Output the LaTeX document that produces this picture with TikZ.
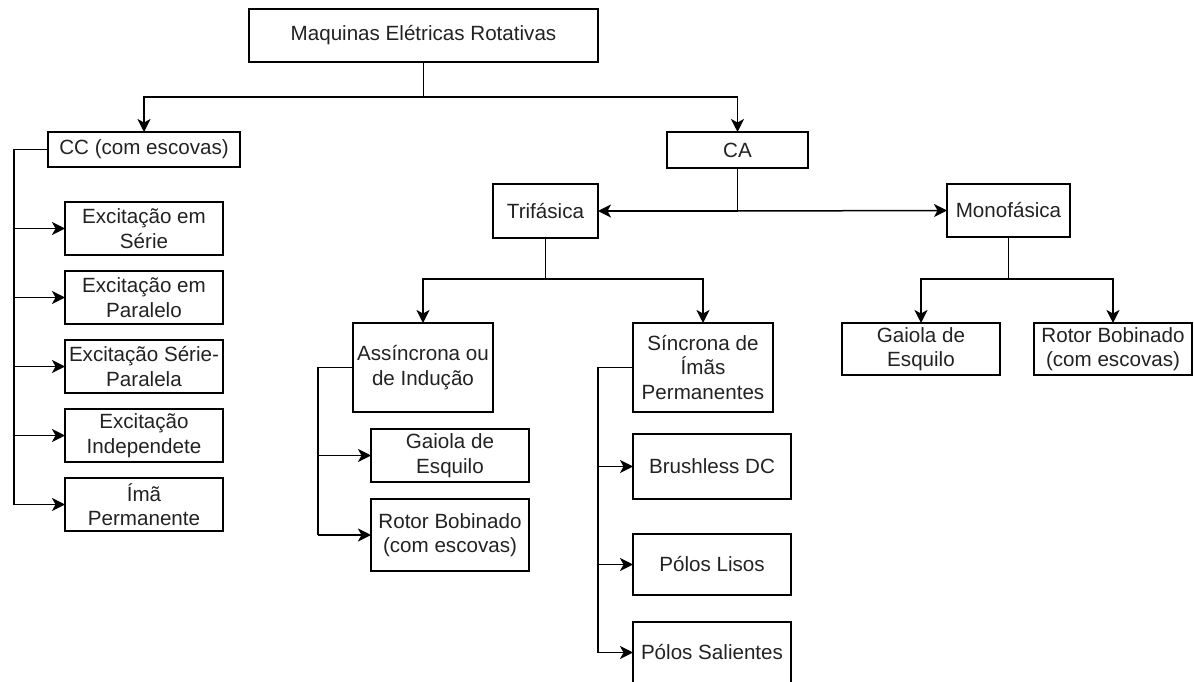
\documentclass[tikz,border=0pt]{standalone}
\usepackage{fontspec}
\setmainfont{Liberation Sans}
\usepackage{tikz}
\usetikzlibrary{positioning,arrows.meta}
\definecolor{ink}{HTML}{222222}
\tikzset{
  mbox/.style={draw,line width=1.5pt,inner sep=0pt,outer sep=0pt,align=center,text=ink,
    font=\fontsize{20.6}{24.5}\selectfont},
  sz/.style 2 args={minimum width=#1pt,minimum height=#2pt},
  link/.style={line width=1.5pt},
  arr/.style={link,-{Stealth[length=13pt,width=13pt,inset=3.5pt]}}
}
\begin{document}
\begin{tikzpicture}[x=1pt,y=-1pt]
\useasboundingbox (0,0) rectangle (1194,682);
% top and first level
\node[mbox,sz={349}{53}] (top) at (423.5,35.5) {Maquinas Elétricas Rotativas};
\node[mbox,sz={192}{35}] (cc) at (144,149.5) {CC (com escovas)};
\node[mbox,sz={141}{36}] (ca) at (737.5,150) {CA};
\node[mbox,sz={105}{54}] (tri) at (545.5,211) {Trifásica};
\node[mbox,sz={123}{53}] (mono) at (1008.5,210.5) {Monofásica};
% CC branch
\node[mbox,sz={158}{53}] (e1) at (144,228.5) {Excitação em\\Série};
\node[mbox,sz={158}{53},below=16pt of e1] (e2) {Excitação em\\Paralelo};
\node[mbox,sz={158}{53},below=16pt of e2] (e3) {Excitação Série-\\Paralela};
\node[mbox,sz={158}{53},below=16pt of e3] (e4) {Excitação\\Independete};
\node[mbox,sz={158}{53},below=16pt of e4] (e5) {Ímã\\Permanente};
% three phase
\node[mbox,sz={140}{89}] (ass) at (423,367.5) {Assíncrona ou\\de Indução};
\node[mbox,sz={140}{89}] (sin) at (703,367.5) {Síncrona de\\Ímãs\\Permanentes};
\node[mbox,sz={158}{53}] (gtri) at (450,455.5) {Gaiola de\\Esquilo};
\node[mbox,sz={158}{72}] (rtri) at (450,535) {Rotor Bobinado\\(com escovas)};
\node[mbox,sz={158}{65}] (bdc) at (712,466.5) {Brushless DC};
\node[mbox,sz={158}{61}] (lisos) at (712,564.5) {Pólos Lisos};
\node[mbox,sz={158}{61}] (sal) at (712,652.5) {Pólos Salientes};
% single phase
\node[mbox,sz={158}{52}] (gmono) at (921,349) {Gaiola de\\Esquilo};
\node[mbox,sz={158}{52}] (rmono) at (1113,349) {Rotor Bobinado\\(com escovas)};
% junctions
\coordinate (jtop) at (423.5,97);
\coordinate (jca) at (737.5,211);
\coordinate (jtri) at (545.5,279);
\coordinate (jmono) at (1008.5,279);
\coordinate (ccbus) at (14,0);
\coordinate (assbus) at (318,0);
\coordinate (sinbus) at (598,0);
% connectors
\draw[link] (top.south) -- (jtop);
\draw[arr] (jtop) -| (cc.north);
\draw[arr] (jtop) -| (ca.north);
\draw[link] (ca.south) -- (jca);
\draw[arr] (jca) -- (tri.east);
\draw[arr] (jca) -- (mono.west);
\draw[link] (tri.south) -- (jtri);
\draw[arr] (jtri) -| (ass.north);
\draw[arr] (jtri) -| (sin.north);
\draw[link] (mono.south) -- (jmono);
\draw[arr] (jmono) -| (gmono.north);
\draw[arr] (jmono) -| (rmono.north);
\draw[link] (cc.west) -| (ccbus |- e5.west);
\foreach \n in {e1,e2,e3,e4,e5}
  \draw[arr] (ccbus |- \n.west) -- (\n.west);
\draw[link] (ass.west) -| (assbus |- rtri.west);
\foreach \n in {gtri,rtri}
  \draw[arr] (assbus |- \n.west) -- (\n.west);
\draw[link] (sin.west) -| (sinbus |- sal.west);
\foreach \n in {bdc,lisos,sal}
  \draw[arr] (sinbus |- \n.west) -- (\n.west);
\end{tikzpicture}
\end{document}
